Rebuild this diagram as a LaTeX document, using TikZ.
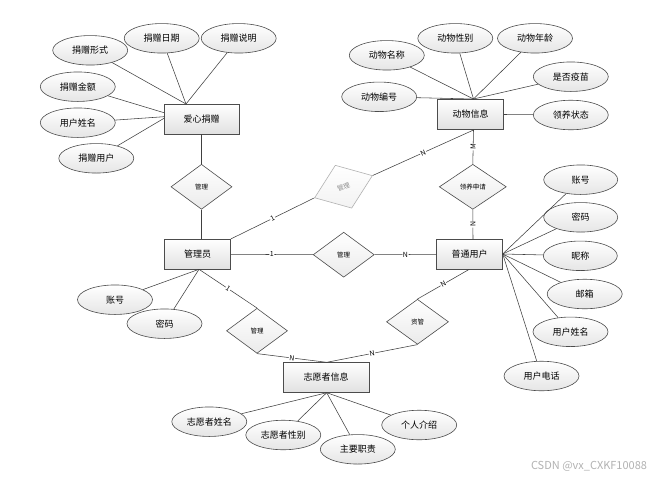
\documentclass[tikz,border=0pt]{standalone}
\usepackage{fontspec}
\setmainfont{Noto Sans CJK SC}
\usetikzlibrary{shapes.geometric}
\tikzset{
  ent/.style={rectangle, draw=black!70, line width=0.7pt, top color=white, bottom color=black!12,
    minimum width=66pt, minimum height=30pt, inner sep=0pt, font=\fontsize{9}{10}\selectfont},
  attr/.style={ellipse, draw=black!70, line width=0.6pt, top color=white, bottom color=black!10,
    minimum width=75pt, minimum height=29.5pt, inner sep=0pt, font=\fontsize{9}{10}\selectfont},
  rel/.style={diamond, draw=black!70, line width=0.6pt, top color=white, bottom color=black!8,
    minimum width=61pt, minimum height=45pt, inner sep=0pt, font=\fontsize{6.5}{7}\selectfont},
  faded/.style={rel, draw=black!30, text=black!45, top color=white, bottom color=black!5},
  conn/.style={draw=black!75, line width=0.55pt},
  lbl/.style={fill=white, inner sep=0.6pt, font=\fontsize{7}{8}\selectfont, sloped}
}
\begin{document}
\begin{tikzpicture}[x=1pt,y=-1pt]
\useasboundingbox (0,0) rectangle (664,480);
\fill[white] (0,0) rectangle (664,480);
% entities
\node[ent, minimum width=75pt] (jz) at (201.5,119) {爱心捐赠};
\node[ent] (dw) at (470.7,114.5) {动物信息};
\node[ent] (gly) at (197.5,254.3) {管理员};
\node[ent] (pt) at (469.7,254.3) {普通用户};
\node[ent, minimum width=86pt] (zy) at (326.2,377.5) {志愿者信息};
% relationships
\node[rel] (d1) at (201.5,186.8) {管理};
\node[faded, minimum width=62pt, minimum height=46pt, rotate=21] (fd) at (343.5,186.7) {};
\node[text=black!45, font=\fontsize{6.5}{7}\selectfont, inner sep=0pt, rotate=21] (fdt) at (fd.center) {管理};
\node[rel, minimum width=67pt] (d2) at (472.8,186.8) {领养申请};
\node[rel] (d3) at (343.7,254.7) {管理};
\node[rel] (d4) at (257,330.8) {管理};
\node[rel, minimum width=62pt] (d5) at (417.5,321.8) {资管};
% attributes of 爱心捐赠
\node[attr] (a1) at (90.2,50.3) {捐赠形式};
\node[attr] (a2) at (161.7,38.3) {捐赠日期};
\node[attr] (a3) at (238.7,38.3) {捐赠说明};
\node[attr] (a4) at (77.8,86.7) {捐赠金额};
\node[attr] (a5) at (77.8,122.7) {用户姓名};
\node[attr] (a6) at (96.3,158.3) {捐赠用户};
% attributes of 动物信息
\node[attr] (b1) at (386.8,55.3) {动物名称};
\node[attr] (b2) at (455.3,38.3) {动物性别};
\node[attr] (b3) at (535,38.3) {动物年龄};
\node[attr] (b4) at (570.8,76.7) {是否疫苗};
\node[attr] (b5) at (379.2,96.8) {动物编号};
\node[attr] (b6) at (570.8,115) {领养状态};
% attributes of 普通用户
\node[attr, minimum width=74pt] (c1) at (580.7,179.7) {账号};
\node[attr, minimum width=74pt] (c2) at (580.7,217.3) {密码};
\node[attr, minimum width=74pt] (c3) at (580.3,255.8) {昵称};
\node[attr] (c4) at (584.7,294) {邮箱};
\node[attr] (c5) at (570.5,331.8) {用户姓名};
\node[attr] (c6) at (541.5,376) {用户电话};
% attributes of 管理员
\node[attr] (e1) at (115,299.7) {账号};
\node[attr] (e2) at (164.5,323.7) {密码};
% attributes of 志愿者信息
\node[attr] (f1) at (209.3,421.7) {志愿者姓名};
\node[attr] (f2) at (283.3,435) {志愿者性别};
\node[attr] (f3) at (357.8,449.3) {主要职责};
\node[attr] (f4) at (419.2,425) {个人介绍};
% connection points
\coordinate (jzT) at (186,104);
\coordinate (jzL1) at (164,112.7);
\coordinate (jzL2) at (164,116.7);
\coordinate (jzL3) at (164,118.3);
\coordinate (dwT) at (473.5,99);
\coordinate (dwB) at (473.5,130);
\coordinate (ptR) at (502.7,254);
\coordinate (ptT) at (473,239.3);
\coordinate (ptB) at (469.3,269.3);
\coordinate (glyB) at (199,269.3);
\coordinate (glyT) at (201.5,239.3);
\coordinate (zyB) at (326.7,392.7);
\coordinate (zyT) at (326.7,362.3);
% attribute lines
\foreach \a in {a1,a2,a3} \draw[conn] (\a) -- (jzT);
\draw[conn] (a4) -- (jzL1);
\draw[conn] (a5) -- (jzL2);
\draw[conn] (a6) -- (jzL3);
\foreach \a in {b1,b2,b3,b4,b5} \draw[conn] (\a) -- (dwT);
\draw[conn] (dw.east) -- (b6);
\foreach \a in {c1,c2,c3,c4,c5,c6} \draw[conn] (\a) -- (ptR);
\foreach \a in {e1,e2} \draw[conn] (\a) -- (glyB);
\foreach \a in {f1,f2,f3,f4} \draw[conn] (\a) -- (zyB);
% relationship lines
\draw[conn] (jz.south) -- (d1.north);
\draw[conn] (d1.south) -- (glyT);
\draw[conn] (gly.north east) -- node[lbl]{1} (fd.west);
\draw[conn] (fd.east) -- node[lbl]{N} (dwB);
\draw[conn] (dwB) -- node[lbl]{M} (d2.north);
\draw[conn] (d2.south) -- node[lbl]{N} (ptT);
\draw[conn] (gly.east) -- node[lbl]{1} (d3.west);
\draw[conn] (d3.east) -- node[lbl]{N} (pt.west);
\draw[conn] (glyB) -- node[lbl]{1} (d4.north);
\draw[conn] (d4.south) -- node[lbl]{N} (zyT);
\draw[conn] (ptB) -- node[lbl]{N} (d5.north);
\draw[conn] (d5.south) -- node[lbl]{N} (zyT);
% watermark
\node[text=black!30, font=\fontsize{11}{12}\selectfont, inner sep=0pt] (wm) at (589,466) {CSDN @vx\_CXKF10088};
\end{tikzpicture}
\end{document}
